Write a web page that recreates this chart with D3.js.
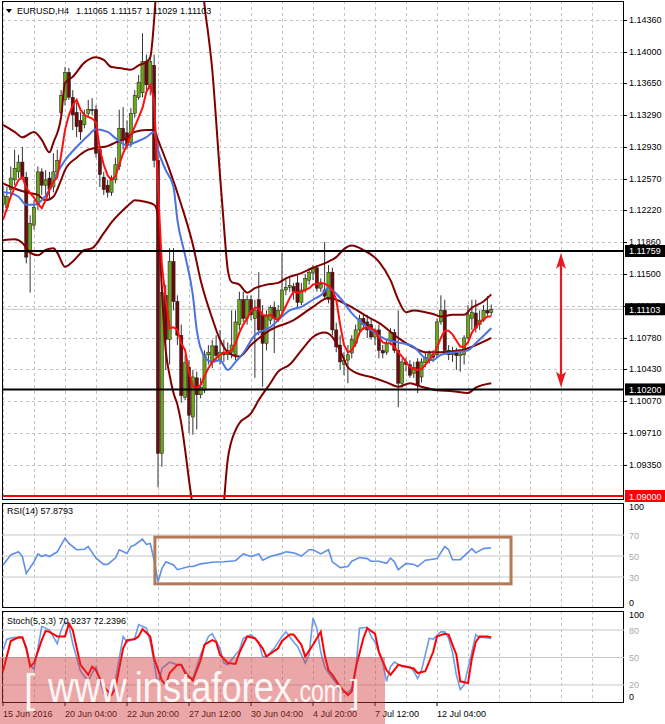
<!DOCTYPE html>
<html><head><meta charset="utf-8">
<script src="https://cdn.jsdelivr.net/npm/d3@7/dist/d3.min.js"></script>
<style>body{margin:0;background:#fff}svg{display:block}</style>
</head><body><svg id="c" width="665" height="724"></svg>
<script>
// ---------------- DATA ----------------
const symbolTitle = "EURUSD,H4";
const lastOHLC = ["1.11065", "1.11157", "1.11029", "1.11103"];
const opens = [1.1228,1.1225,1.1245,1.1256,1.1265,1.1276,1.1259,1.1174,1.1205,1.1228,1.1265,1.1250,1.1258,1.1248,1.1265,1.1332,1.1346,1.1377,1.1349,1.1332,1.1323,1.1318,1.1331,1.1335,1.1335,1.1290,1.1259,1.1250,1.1242,1.1256,1.1271,1.1314,1.1309,1.1298,1.1331,1.1349,1.1354,1.1389,1.1359,1.1385,1.1278,1.0948,1.1126,1.1076,1.1164,1.1119,1.1081,1.1011,1.1045,1.0989,1.1033,1.1014,1.1019,1.1059,1.1051,1.1069,1.1053,1.1062,1.1059,1.1062,1.1059,1.1093,1.1121,1.1100,1.1121,1.1100,1.1121,1.1104,1.1072,1.1098,1.1112,1.1100,1.1109,1.1132,1.1135,1.1136,1.1140,1.1118,1.1132,1.1143,1.1151,1.1157,1.1134,1.1132,1.1121,1.1152,1.1087,1.1070,1.1048,1.1053,1.1061,1.1072,1.1087,1.1100,1.1096,1.1093,1.1079,1.1087,1.1064,1.1062,1.1075,1.1084,1.1064,1.1027,1.1051,1.1048,1.1038,1.1051,1.1034,1.1050,1.1053,1.1059,1.1059,1.1096,1.1109,1.1064,1.1059,1.1061,1.1058,1.1059,1.1078,1.1100,1.1106,1.1093,1.1098,1.1109,1.11065];
const highs = [1.1250,1.1248,1.1271,1.1290,1.1284,1.1293,1.1265,1.1216,1.1233,1.1271,1.1269,1.1267,1.1265,1.1286,1.1290,1.1357,1.1383,1.1382,1.1357,1.1343,1.1332,1.1335,1.1346,1.1348,1.1340,1.1295,1.1265,1.1256,1.1261,1.1281,1.1335,1.1338,1.1323,1.1337,1.1357,1.1374,1.1421,1.1397,1.1397,1.1397,1.1301,1.1138,1.1138,1.1179,1.1179,1.1126,1.1093,1.1059,1.1053,1.1042,1.1040,1.1033,1.1064,1.1070,1.1076,1.1081,1.1087,1.1076,1.1073,1.1109,1.1109,1.1130,1.1130,1.1126,1.1126,1.1121,1.1152,1.1115,1.1109,1.1115,1.1119,1.1115,1.1174,1.1145,1.1148,1.1140,1.1149,1.1140,1.1150,1.1157,1.1160,1.1160,1.1145,1.1186,1.1160,1.1157,1.1095,1.1081,1.1062,1.1070,1.1081,1.1093,1.1104,1.1105,1.1104,1.1100,1.1089,1.1093,1.1070,1.1076,1.1089,1.1088,1.1109,1.1055,1.1056,1.1053,1.1051,1.1055,1.1055,1.1061,1.1064,1.1064,1.1100,1.1126,1.1121,1.1070,1.1068,1.1067,1.1064,1.1081,1.1115,1.1121,1.1121,1.1109,1.1115,1.1125,1.11157];
const lows = [1.1219,1.1220,1.1239,1.1250,1.1258,1.1256,1.1162,1.1129,1.1200,1.1222,1.1239,1.1239,1.1233,1.1242,1.1260,1.1329,1.1340,1.1346,1.1312,1.1304,1.1301,1.1314,1.1326,1.1329,1.1281,1.1248,1.1239,1.1236,1.1238,1.1252,1.1267,1.1290,1.1290,1.1293,1.1326,1.1346,1.1349,1.1357,1.1351,1.1270,1.0910,1.0933,1.1042,1.1048,1.1109,1.1070,1.1005,1.1008,1.0971,1.0969,1.0975,1.1010,1.1016,1.1048,1.1044,1.1051,1.1048,1.1051,1.1053,1.1055,1.1053,1.1087,1.1096,1.1093,1.1098,1.1033,1.1081,1.1023,1.1064,1.1093,1.1061,1.1096,1.1104,1.1126,1.1130,1.1121,1.1112,1.1115,1.1129,1.1138,1.1143,1.1130,1.1130,1.1121,1.1117,1.1081,1.1062,1.1042,1.1036,1.1027,1.1055,1.1068,1.1081,1.1087,1.1078,1.1076,1.1070,1.1055,1.1055,1.1059,1.1070,1.1061,1.1000,1.1022,1.1040,1.1033,1.1033,1.1016,1.1028,1.1045,1.1049,1.1051,1.1055,1.1093,1.1059,1.1053,1.1051,1.1042,1.1040,1.1048,1.1076,1.1087,1.1084,1.1087,1.1096,1.1103,1.11029];
const closes = [1.1239,1.1237,1.1258,1.1269,1.1276,1.1259,1.1169,1.1207,1.1225,1.1265,1.1250,1.1256,1.1245,1.1265,1.1278,1.1351,1.1377,1.1349,1.1329,1.1316,1.1310,1.1329,1.1335,1.1334,1.1286,1.1262,1.1245,1.1242,1.1258,1.1273,1.1314,1.1301,1.1295,1.1331,1.1351,1.1366,1.1389,1.1363,1.1389,1.1278,1.0948,1.1129,1.1076,1.1164,1.1119,1.1081,1.1013,1.1050,1.0991,1.1034,1.1014,1.1022,1.1059,1.1062,1.1069,1.1058,1.1062,1.1059,1.1064,1.1070,1.1096,1.1121,1.1100,1.1121,1.1104,1.1109,1.1087,1.1072,1.1102,1.1112,1.1100,1.1109,1.1132,1.1135,1.1137,1.1130,1.1118,1.1132,1.1145,1.1152,1.1157,1.1134,1.1138,1.1125,1.1152,1.1087,1.1068,1.1051,1.1053,1.1059,1.1076,1.1087,1.1100,1.1093,1.1087,1.1079,1.1087,1.1064,1.1061,1.1072,1.1084,1.1064,1.1027,1.1051,1.1048,1.1036,1.1045,1.1025,1.1051,1.1056,1.1060,1.1056,1.1096,1.1109,1.1064,1.1059,1.1061,1.1058,1.1060,1.1078,1.1104,1.1107,1.1089,1.1098,1.1109,1.1106,1.11103];

// fast MA (red), one value per bar
const maFast = [1.1211,1.1224,1.1237,1.1247,1.1256,1.1259,1.1247,1.1241,1.1236,1.1229,1.1224,1.1233,1.1245,1.1254,1.1259,1.1284,1.1312,1.1329,1.1340,1.1346,1.1335,1.1329,1.1327,1.1325,1.1321,1.1290,1.1273,1.1261,1.1256,1.1260,1.1273,1.1286,1.1295,1.1306,1.1316,1.1326,1.1337,1.1355,1.1363,1.1346,1.1248,1.1160,1.1121,1.1089,1.1090,1.1087,1.1072,1.1064,1.1040,1.1023,1.1022,1.1025,1.1035,1.1044,1.1051,1.1055,1.1059,1.1061,1.1062,1.1064,1.1072,1.1084,1.1093,1.1100,1.1108,1.1112,1.1111,1.1104,1.1103,1.1104,1.1100,1.1098,1.1105,1.1114,1.1123,1.1130,1.1129,1.1130,1.1132,1.1134,1.1138,1.1139,1.1140,1.1139,1.1137,1.1132,1.1121,1.1093,1.1070,1.1062,1.1064,1.1072,1.1084,1.1089,1.1090,1.1089,1.1086,1.1079,1.1073,1.1072,1.1072,1.1068,1.1062,1.1057,1.1051,1.1045,1.1043,1.1042,1.1043,1.1048,1.1053,1.1059,1.1067,1.1078,1.1086,1.1086,1.1082,1.1075,1.1068,1.1068,1.1073,1.1084,1.1090,1.1095,1.1099,1.1102,1.1102];
// slow MA (blue): [bar, value]
const maSlow = [[0,1.1242],[2,1.1241],[4,1.1237],[6,1.1228],[8,1.1228],[10,1.1233],[12,1.1245],[14,1.1264],[16,1.1278],[19,1.1293],[22,1.1306],[24,1.1313],[27,1.1310],[29,1.1303],[32,1.1295],[34,1.1298],[37,1.1304],[39,1.1310],[40,1.1290],[42,1.1267],[44,1.1248],[45,1.1211],[47,1.1171],[49,1.1126],[50,1.1087],[52,1.1057],[54,1.1051],[56,1.1053],[58,1.1042],[60,1.1051],[62,1.1061],[65,1.1081],[69,1.1090],[71,1.1098],[74,1.1109],[77,1.1113],[80,1.1121],[82,1.1126],[84,1.1134],[87,1.1123],[90,1.1106],[94,1.1090],[99,1.1076],[102,1.1073],[106,1.1068],[109,1.1055],[111,1.1053],[113,1.1059],[117,1.1062],[120,1.1064],[122,1.1072],[126,1.1089]];
// Bollinger bands: [bar, value]
const bbUpper = [[0,1.1318],[3,1.1310],[5,1.1304],[8,1.1310],[10,1.1301],[12,1.1287],[13,1.1298],[15,1.1327],[16,1.1365],[18,1.1372],[21,1.1388],[24,1.1394],[26,1.1391],[28,1.1383],[30,1.1382],[33,1.1380],[35,1.1385],[37,1.1389],[38,1.1394],[39,1.1436],[40,1.1504],[42,1.1627],[44,1.1740],[46,1.1796],[48,1.1740],[50,1.1594],[52,1.1453],[53,1.1419],[54,1.1380],[55,1.1323],[56,1.1261],[57,1.1205],[58,1.1155],[59,1.1141],[61,1.1138],[63,1.1129],[65,1.1134],[68,1.1138],[71,1.1140],[73,1.1145],[77,1.1151],[80,1.1157],[84,1.1164],[86,1.1169],[88,1.1178],[90,1.1182],[93,1.1177],[97,1.1164],[100,1.1143],[102,1.1121],[104,1.1107],[106,1.1109],[109,1.1107],[111,1.1105],[113,1.1102],[116,1.1104],[119,1.1104],[121,1.1112],[124,1.1119],[126,1.1127]];
const bbMiddle = [[0,1.1252],[2,1.1248],[6,1.1242],[9,1.1239],[11,1.1233],[13,1.1237],[15,1.1256],[16,1.1267],[19,1.1281],[22,1.1290],[24,1.1292],[27,1.1294],[29,1.1298],[32,1.1303],[34,1.1310],[37,1.1312],[39,1.1312],[40,1.1301],[43,1.1267],[46,1.1228],[49,1.1183],[51,1.1143],[54,1.1100],[56,1.1076],[58,1.1062],[61,1.1057],[64,1.1070],[69,1.1087],[75,1.1098],[80,1.1113],[84,1.1123],[89,1.1115],[94,1.1102],[97,1.1095],[102,1.1078],[106,1.1067],[109,1.1062],[113,1.1062],[118,1.1064],[121,1.1068],[126,1.1078]];
const bbLower = [[0,1.1188],[3,1.1189],[5,1.1185],[7,1.1174],[9,1.1171],[11,1.1177],[13,1.1179],[14,1.1174],[16,1.1158],[18,1.1164],[21,1.1177],[23,1.1179],[26,1.1196],[28,1.1208],[31,1.1222],[33,1.1230],[34,1.1233],[37,1.1231],[39,1.1228],[40,1.1216],[41,1.1132],[42,1.1064],[43,1.1036],[44,1.1016],[45,1.1003],[46,1.0982],[47,1.0952],[48,1.0918],[49,1.0884],[50,1.0828],[52,1.0738],[54,1.0727],[56,1.0817],[57,1.0890],[58,1.0941],[60,1.0974],[61,1.0982],[64,1.0993],[66,1.1008],[69,1.1027],[71,1.1040],[74,1.1048],[77,1.1064],[80,1.1079],[83,1.1084],[85,1.1079],[87,1.1064],[89,1.1045],[91,1.1039],[95,1.1034],[99,1.1028],[102,1.1023],[105,1.1027],[108,1.1023],[112,1.1019],[116,1.1018],[120,1.1016],[122,1.1022],[126,1.1027]];

const rsiTitle = "RSI(14) 57.8793";
const rsi = [[0,41.5],[2,51],[4,54],[5,49.5],[6,33.5],[8,44.5],[9,52],[10,49.5],[11,51],[12,49.5],[14,54],[16,67],[17,62],[19,56],[21,56.5],[22,59],[24,48],[26,42],[27,42],[29,48],[30,56],[32,52.5],[33,59],[34,60.5],[36,66],[37,61],[38,62],[39,46],[40,25.5],[41,38],[42,44.5],[44,41.5],[45,37],[48,40],[49,40],[51,42.5],[54,44],[57,44.5],[60,45.5],[62,52],[64,49.5],[66,52],[67,46],[69,49.5],[72,52.5],[73,54],[75,53],[77,50],[79,56],[80,56],[82,52],[84,56],[85,44.5],[87,39],[89,40],[90,45],[92,48.5],[94,47.5],[95,45],[97,45],[99,43],[100,48],[101,44.5],[102,37],[104,43],[106,42],[107,40],[109,46],[110,46.5],[112,47.5],[114,59],[115,56],[116,46.5],[118,46.5],[121,57],[122,53],[124,57],[126,57.88]];
const rsiLevels = [70, 50, 30];
const rsiBox = {fromBar: 39.2, toBar: 131.1, low: 23.5, high: 68};

const stochTitle = "Stoch(5,3,3) 70.9237 72.2396";
const stochK = [[0,58],[1,70],[3,72],[5,71],[6,62],[7,42],[8,37],[9,60],[10,84],[12,80],[14,65],[15,80],[16,89],[17,85],[18,65],[20,35],[22,24],[23,33],[24,40],[25,25],[26,11],[27,9],[28,9],[29,25],[31,73],[32,67],[34,71],[35,86],[37,82],[38,67],[39,45],[40,18],[41,38],[43,45],[45,42],[46,42],[48,29],[49,27],[51,53],[53,73],[54,76],[56,60],[57,44],[58,42],[60,53],[61,58],[62,71],[64,75],[66,67],[67,51],[68,51],[70,60],[72,73],[73,78],[75,67],[76,62],[78,44],[79,53],[80,93],[81,82],[82,56],[83,40],[84,33],[86,22],[87,12],[89,12],[90,16],[91,35],[92,82],[94,83],[95,73],[96,67],[98,44],[99,24],[100,40],[101,45],[103,40],[105,40],[106,35],[107,27],[108,36],[110,71],[111,70],[113,78],[114,78],[115,71],[116,56],[117,31],[118,15],[119,20],[121,56],[122,75],[123,72],[124,72],[126,70.92]];
const stochD = [[0,35],[2,68],[4,72],[5,72],[6,60],[7,40],[8,44],[10,69],[11,79],[12,78],[14,73],[16,73],[17,87],[18,80],[20,42],[22,31],[23,40],[24,36],[26,18],[28,9],[29,16],[31,60],[32,69],[34,70],[35,73],[36,81],[38,73],[39,49],[41,25],[42,20],[43,33],[45,42],[46,42],[47,33],[49,25],[51,47],[52,64],[54,69],[55,67],[56,53],[58,44],[60,43],[61,55],[63,73],[65,71],[67,60],[68,51],[71,60],[72,68],[74,75],[75,75],[77,64],[78,51],[80,64],[82,78],[83,53],[84,36],[85,31],[87,18],[89,9],[90,13],[91,38],[93,71],[94,82],[96,76],[97,56],[99,36],[100,31],[102,42],[104,40],[106,38],[107,33],[109,35],[111,56],[112,73],[114,76],[115,75],[117,53],[118,24],[120,22],[121,49],[122,67],[123,73],[125,73],[126,72.24]];
const stochLevels = [80, 50, 20];

const priceTicks = [1.14360,1.14000,1.13650,1.13290,1.12930,1.12570,1.12220,1.11860,1.11500,1.11140,1.10780,1.10430,1.10070,1.09710,1.09350];
const resistance = 1.11759, support = 1.10200, lastPrice = 1.11103, redLevel = 1.09000;
const arrowBar = 144;
const timeLabels = [[0,"15 Jun 2016"],[16,"20 Jun 04:00"],[32,"22 Jun 20:00"],[48,"27 Jun 12:00"],[64,"30 Jun 04:00"],[80,"4 Jul 20:00"],[96,"7 Jul 12:00"],[112,"12 Jul 04:00"]];
const watermark = ["[", "www.instaforex", ".com", "]"];

// ---------------- LAYOUT ----------------
const svg = d3.select("#c");
const L = 2, R = 624;
const main = {top: 1, bottom: 500}, rsiP = {top: 503, bottom: 608}, stP = {top: 611, bottom: 703};
const x = d3.scaleLinear().domain([0, 126]).range([3, 3 + 126 * 3.875]);
const yP = d3.scaleLinear().domain([1.09, 1.1436]).range([496, 20]);
const yR = d3.scaleLinear().domain([0, 100]).range([608.5, 503.5]);
const yS = d3.scaleLinear().domain([0, 100]).range([703.3, 611.7]);
const FONT = "'Liberation Sans', Arial, sans-serif";
const defs = svg.append("defs");
function clip(id, p) {
  defs.append("clipPath").attr("id", id).append("rect").attr("x", L).attr("y", p.top).attr("width", R - L).attr("height", p.bottom - p.top);
}
clip("cm", main); clip("cr", rsiP); clip("cs", stP);

const gridBars = d3.range(0, 161, 8).filter(i => x(i) < R - 1);
function vgrid(p) {
  svg.append("g").selectAll("line").data(gridBars).join("line")
    .attr("x1", d => Math.round(x(d)) + 0.5).attr("x2", d => Math.round(x(d)) + 0.5)
    .attr("y1", p.top).attr("y2", p.bottom)
    .attr("stroke", "#c4c4c4").attr("stroke-dasharray", "3,3").attr("stroke-width", 1);
}
vgrid(main); vgrid(rsiP); vgrid(stP);

// main horizontal grid
svg.append("g").selectAll("line").data(priceTicks).join("line")
  .attr("x1", L).attr("x2", R).attr("y1", d => Math.round(yP(d)) + 0.5).attr("y2", d => Math.round(yP(d)) + 0.5)
  .attr("stroke", "#c4c4c4").attr("stroke-dasharray", "3,3");

// current price line
svg.append("line").attr("x1", L).attr("x2", R).attr("y1", yP(lastPrice)).attr("y2", yP(lastPrice)).attr("stroke", "#c8c8c8").attr("stroke-width", 1);

const gm = svg.append("g").attr("clip-path", "url(#cm)");
// candles
const bars = d3.range(opens.length).map(i => ({i, o: opens[i], h: highs[i], l: lows[i], c: closes[i]}));
gm.append("g").selectAll("line").data(bars).join("line")
  .attr("x1", d => x(d.i)).attr("x2", d => x(d.i)).attr("y1", d => yP(d.h)).attr("y2", d => yP(d.l))
  .attr("stroke", "#333").attr("stroke-width", 1);
gm.append("g").selectAll("rect").data(bars).join("rect")
  .attr("x", d => x(d.i) - 1.6).attr("width", 3.2)
  .attr("y", d => yP(Math.max(d.o, d.c))).attr("height", d => Math.max(1, Math.abs(yP(d.o) - yP(d.c))))
  .attr("fill", d => d.c >= d.o ? "#6aa818" : "#6e0a0a").attr("stroke", "#1a1a1a").attr("stroke-width", 0.5);

const lineSparse = (y, curve) => d3.line().x(d => x(d[0])).y(d => y(d[1])).curve(curve);
[bbUpper, bbMiddle, bbLower].forEach(s => gm.append("path").attr("d", lineSparse(yP, d3.curveMonotoneX)(s)).attr("fill", "none").attr("stroke", "#800000").attr("stroke-width", 2));
gm.append("path").attr("d", lineSparse(yP, d3.curveMonotoneX)(maSlow)).attr("fill", "none").attr("stroke", "#4a72e0").attr("stroke-width", 2);
gm.append("path").attr("d", d3.line().x((d, i) => x(i)).y(d => yP(d))(maFast)).attr("fill", "none").attr("stroke", "#ff1010").attr("stroke-width", 2);

// horizontal objects
[[resistance, "#000"], [support, "#000"], [redLevel, "#ff0000"]].forEach(([v, col]) => {
  svg.append("line").attr("x1", L).attr("x2", R).attr("y1", yP(v)).attr("y2", yP(v)).attr("stroke", col).attr("stroke-width", 2);
});

// red double arrow
(function () {
  const ax = x(arrowBar), y1 = yP(resistance) + 2, y2 = yP(support) - 2, g = svg.append("g");
  g.append("line").attr("x1", ax).attr("x2", ax).attr("y1", y1 + 10).attr("y2", y2 - 10).attr("stroke", "#e41b23").attr("stroke-width", 2.2);
  g.append("path").attr("d", `M${ax},${y1} L${ax - 5},${y1 + 16} L${ax},${y1 + 12} L${ax + 5},${y1 + 16} Z`).attr("fill", "#e41b23");
  g.append("path").attr("d", `M${ax},${y2} L${ax - 5},${y2 - 16} L${ax},${y2 - 12} L${ax + 5},${y2 - 16} Z`).attr("fill", "#e41b23");
})();

// panel frames
[main, rsiP, stP].forEach(p => svg.append("rect").attr("x", L + 0.5).attr("y", p.top + 0.5).attr("width", R - L - 1).attr("height", p.bottom - p.top - 1).attr("fill", "none").attr("stroke", "#000").attr("stroke-width", 1));

// price axis
const ax = svg.append("g").attr("transform", `translate(${R},0)`)
  .call(d3.axisRight(yP).tickValues(priceTicks).tickFormat(d3.format(".5f")).tickSize(3).tickPadding(2));
ax.select(".domain").remove();
ax.selectAll("text").attr("font-family", FONT).attr("font-size", 9).attr("fill", "#000");
ax.selectAll("line").attr("stroke", "#000");

function priceTag(v, bg) {
  const g = svg.append("g");
  g.append("rect").attr("x", R + 1).attr("y", yP(v) - 6).attr("width", 40).attr("height", 12).attr("fill", bg);
  g.append("text").attr("x", R + 5).attr("y", yP(v) + 3.5).text(d3.format(".5f")(v)).attr("font-family", FONT).attr("font-size", 9).attr("fill", "#fff");
}
priceTag(resistance, "#000"); priceTag(lastPrice, "#000"); priceTag(support, "#000"); priceTag(redLevel, "#ff0000");

// title
svg.append("path").attr("d", "M6,9 L12,9 L9,13 Z").attr("fill", "#000");
svg.append("text").attr("x", 17).attr("y", 14).text(symbolTitle).attr("font-family", FONT).attr("font-size", 9);
lastOHLC.forEach((t, k) => svg.append("text").attr("x", 76 + k * 34.7).attr("y", 14).text(t).attr("font-family", FONT).attr("font-size", 9));

// RSI panel
svg.append("g").selectAll("line").data(rsiLevels).join("line").attr("x1", L).attr("x2", R).attr("y1", d => yR(d)).attr("y2", d => yR(d)).attr("stroke", "#c8c8c8").attr("stroke-width", 1);
const gr = svg.append("g").attr("clip-path", "url(#cr)");
gr.append("path").attr("d", lineSparse(yR, d3.curveLinear)(rsi)).attr("fill", "none").attr("stroke", "#5f8fe6").attr("stroke-width", 1.6);
svg.append("rect").attr("x", x(rsiBox.fromBar)).attr("y", yR(rsiBox.high)).attr("width", x(rsiBox.toBar) - x(rsiBox.fromBar)).attr("height", yR(rsiBox.low) - yR(rsiBox.high)).attr("fill", "none").attr("stroke", "#b27a57").attr("stroke-width", 3);
svg.append("text").attr("x", 7).attr("y", 514).text(rsiTitle).attr("font-family", FONT).attr("font-size", 9);
[[100, "#000", 6], [70, "#aaa", 3.5], [50, "#aaa", 3.5], [30, "#aaa", 3.5], [0, "#000", -3]].forEach(([v, c, o]) =>
  svg.append("text").attr("x", R + 5).attr("y", yR(v) + o).text(v).attr("font-family", FONT).attr("font-size", 9).attr("fill", c));

// Stoch panel
svg.append("g").selectAll("line").data(stochLevels).join("line").attr("x1", L).attr("x2", R).attr("y1", d => yS(d)).attr("y2", d => yS(d)).attr("stroke", "#c8c8c8").attr("stroke-width", 1);
const gs = svg.append("g").attr("clip-path", "url(#cs)");
gs.append("path").attr("d", lineSparse(yS, d3.curveLinear)(stochK)).attr("fill", "none").attr("stroke", "#6e9be8").attr("stroke-width", 1.6);
gs.append("path").attr("d", lineSparse(yS, d3.curveLinear)(stochD)).attr("fill", "none").attr("stroke", "#ff0000").attr("stroke-width", 2);
svg.append("text").attr("x", 7).attr("y", 624).text(stochTitle).attr("font-family", FONT).attr("font-size", 9);
[[100, "#000", 6], [80, "#aaa", 3.5], [50, "#aaa", 3.5], [20, "#aaa", 3.5], [0, "#000", -3]].forEach(([v, c, o]) =>
  svg.append("text").attr("x", R + 5).attr("y", yS(v) + o).text(v).attr("font-family", FONT).attr("font-size", 9).attr("fill", c));

// time axis
svg.append("g").selectAll("line").data(timeLabels).join("line").attr("x1", d => x(d[0])).attr("x2", d => x(d[0])).attr("y1", stP.bottom).attr("y2", stP.bottom + 3).attr("stroke", "#000");
svg.append("g").selectAll("text").data(timeLabels).join("text").attr("x", d => x(d[0])).attr("y", 717).text(d => d[1]).attr("font-family", FONT).attr("font-size", 9);

// watermark
const wm = svg.append("g");
wm.append("rect").attr("x", 0).attr("y", 657).attr("width", 385).attr("height", 67).attr("fill", "#d23c3c").attr("opacity", 0.45);
wm.append("text").attr("x", 24).attr("y", 703).text(watermark[0]).attr("font-family", FONT).attr("font-size", 40).attr("fill", "#fff").attr("opacity", 0.9);
wm.append("text").attr("x", 48).attr("y", 702).text(watermark[1]).attr("font-family", FONT).attr("font-size", 42).attr("textLength", 244).attr("lengthAdjust", "spacingAndGlyphs").attr("fill", "#fff").attr("opacity", 0.9);
wm.append("text").attr("x", 293).attr("y", 702).text(watermark[2]).attr("font-family", FONT).attr("font-size", 32).attr("textLength", 50).attr("lengthAdjust", "spacingAndGlyphs").attr("fill", "#fff").attr("opacity", 0.9);
wm.append("text").attr("x", 350).attr("y", 703).text(watermark[3]).attr("font-family", FONT).attr("font-size", 34).attr("fill", "#fff").attr("opacity", 0.9);
</script></body></html>
